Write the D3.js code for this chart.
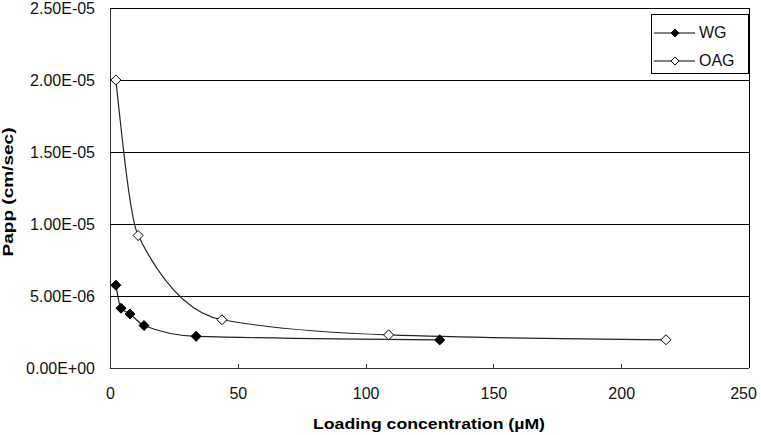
<!DOCTYPE html>
<html><head><meta charset="utf-8">
<script src="https://cdn.jsdelivr.net/npm/d3@7"></script>
<style>body{margin:0;background:#fff}svg{display:block}text{font-family:"Liberation Sans",Arial,sans-serif}</style>
</head><body>
<script>
const wgX = [2.3, 4.3, 7.8, 13.3, 33.7, 129];
const wgY = [5.75e-6, 4.15e-6, 3.75e-6, 2.95e-6, 2.2e-6, 1.95e-6];
const oagX = [2.3, 11, 43.8, 109, 217.5];
const oagY = [2.0e-5, 9.2e-6, 3.35e-6, 2.3e-6, 1.96e-6];
const xTicks = [0, 50, 100, 150, 200, 250];
const yTicks = [0, 5e-6, 1e-5, 1.5e-5, 2e-5, 2.5e-5];
const yTickLabels = ["0.00E+00","5.00E-06","1.00E-05","1.50E-05","2.00E-05","2.50E-05"];
const seriesNames = ["WG", "OAG"];

const W = 761, H = 435;
const L = 110, R = 749, T = 8, B = 368;
const FONT = "Liberation Sans, Arial, sans-serif";
const svg = d3.select("body").append("svg").attr("width", W).attr("height", H);
const x = d3.scaleLinear().domain([0, 250]).range([L, R]);
const y = d3.scaleLinear().domain([0, 2.5e-5]).range([B, T]);

// gridlines
svg.append("g").selectAll("line").data(yTicks.slice(1)).join("line")
  .attr("x1", L).attr("x2", R).attr("y1", d => y(d)).attr("y2", d => y(d))
  .attr("stroke", "#000").attr("stroke-width", 1).attr("shape-rendering", "crispEdges");
// right border
svg.append("line").attr("x1", R).attr("x2", R).attr("y1", T).attr("y2", B)
  .attr("stroke", "#000").attr("shape-rendering", "crispEdges");

// axes
const xAxis = d3.axisBottom(x).tickValues(xTicks).tickSize(-4).tickPadding(20).tickFormat(d3.format("d"));
const gx = svg.append("g").attr("transform", `translate(0,${B})`).call(xAxis);
gx.select(".domain").attr("stroke", "#333").attr("d", `M${L},0H${R}`).attr("shape-rendering", "crispEdges");
gx.selectAll(".tick line").attr("stroke", "#333").attr("shape-rendering", "crispEdges");
gx.selectAll(".tick text").attr("font-size", 16).attr("fill", "#111").attr("font-family", FONT);
gx.selectAll(".tick").filter(d => d === 0 || d === 250).select("line").remove();
gx.selectAll(".tick").filter(d => d === 250).select("text").attr("dx", -6);

const yAxis = d3.axisLeft(y).tickValues(yTicks).tickSize(0).tickPadding(15).tickFormat((d, i) => yTickLabels[i]);
const gy = svg.append("g").attr("transform", `translate(${L},0)`).call(yAxis);
gy.select(".domain").attr("stroke", "#333").attr("d", `M0,${T}V${B}`).attr("shape-rendering", "crispEdges");
gy.selectAll(".tick text").attr("font-size", 16).attr("fill", "#111").attr("font-family", FONT);

// titles
svg.append("text").attr("x", 429).attr("y", 429).attr("text-anchor", "middle")
  .attr("font-size", 15).attr("font-weight", "bold")
  .attr("textLength", 232).attr("lengthAdjust", "spacingAndGlyphs")
  .text("Loading concentration (µM)");
svg.append("text").attr("transform", `translate(13,192) rotate(-90)`).attr("text-anchor", "middle")
  .attr("font-size", 15).attr("font-weight", "bold")
  .attr("textLength", 129).attr("lengthAdjust", "spacingAndGlyphs")
  .text("Papp (cm/sec)");

const line = d3.line().x(d => x(d[0])).y(d => y(d[1])).curve(d3.curveMonotoneX);
const wg = wgX.map((v, i) => [v, wgY[i]]);
const oag = oagX.map((v, i) => [v, oagY[i]]);
svg.append("path").datum(oag).attr("d", line).attr("fill", "none").attr("stroke", "#222").attr("stroke-width", 1.2);
svg.append("path").datum(wg).attr("d", line).attr("fill", "none").attr("stroke", "#222").attr("stroke-width", 1.2);

const diamond = d3.symbol().type(d3.symbolDiamond2).size(64);
function markers(data, fill) {
  svg.append("g").selectAll("path").data(data).join("path")
    .attr("transform", d => `translate(${x(d[0])},${y(d[1])})`)
    .attr("d", diamond).attr("fill", fill).attr("stroke", "#000").attr("stroke-width", 1);
}
markers(oag, "#fff");
markers(wg, "#000");

// legend
const lg = svg.append("g");
lg.append("rect").attr("x", 651.5).attr("y", 14.5).attr("width", 97).attr("height", 59)
  .attr("fill", "#fff").attr("stroke", "#000");
const items = [[seriesNames[0], "#000", 33], [seriesNames[1], "#fff", 61]];
items.forEach(([name, fill, yy]) => {
  lg.append("line").attr("x1", 654).attr("x2", 695).attr("y1", yy).attr("y2", yy).attr("stroke", "#000");
  lg.append("path").attr("transform", `translate(675,${yy})`).attr("d", d3.symbol().type(d3.symbolDiamond2).size(40))
    .attr("fill", fill).attr("stroke", "#000");
  lg.append("text").attr("x", 699).attr("y", yy + 5).attr("font-size", 16).attr("fill", "#111").text(name);
});
</script>
</body></html>
